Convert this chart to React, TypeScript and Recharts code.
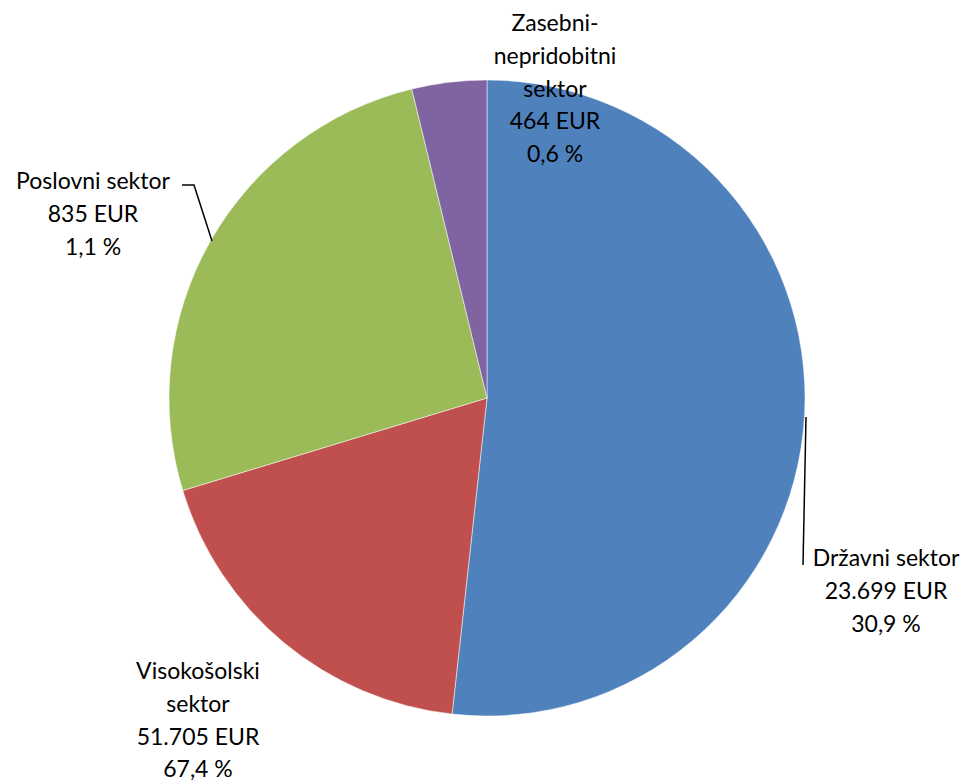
import React from 'react';
import { PieChart, Pie, Cell } from 'recharts';

// slice shares as drawn in the picture
const sectors = ['Državni sektor', 'Visokošolski sektor', 'Poslovni sektor', 'Zasebni-nepridobitni sektor'];
const shares = [51.75, 18.55, 25.9, 3.8];
const amounts = ['23.699 EUR', '51.705 EUR', '835 EUR', '464 EUR'];
const percents = ['30,9 %', '67,4 %', '1,1 %', '0,6 %'];
const colors = ['#4F81BD', '#C0504D', '#9BBB59', '#8064A2'];

// label text broken into lines per sector
const nameLines = [
    ['Državni sektor'],
    ['Visokošolski', 'sektor'],
    ['Poslovni sektor'],
    ['Zasebni-', 'nepridobitni', 'sektor'],
];

// label placement relative to pie centre (first line centre)
const labelLayout = [
    { dx: 399, dy: 159, line: [[319, 19], [316, 167]] },
    { dx: -289, dy: 272, line: null },
    { dx: -394, dy: -218, line: [[-305, -213], [-293, -213], [-275, -157]] },
    { dx: 68, dy: -376, line: null },
];

const data = sectors.map((name, i) => ({ name, value: shares[i] }));

const LINE_H = 32.8;

const renderLabel = (props: any) => {
    const { cx, cy, index } = props;
    const lay = labelLayout[index];
    const lines = [...nameLines[index], amounts[index], percents[index]];
    const x = cx + lay.dx;
    const y = cy + lay.dy;
    return (
        <g key={`lbl-${index}`}>
            {lay.line && (
                <polyline
                    points={lay.line.map(p => `${cx + p[0]},${cy + p[1]}`).join(' ')}
                    fill="none"
                    stroke="#000"
                    strokeWidth={1.5}
                />
            )}
            <text x={x} y={y} textAnchor="middle" dominantBaseline="central" fontSize={23} fill="#000">
                {lines.map((l, k) => (
                    <tspan key={k} x={x} dy={k === 0 ? 0 : LINE_H}>{l}</tspan>
                ))}
            </text>
        </g>
    );
};

export default function App() {
    return (
        <div style={{ position: 'absolute', left: 0, top: 0, width: 967, height: 782, background: '#fff', fontFamily: 'Lato, "Open Sans", sans-serif' }}>
            <PieChart width={967} height={782} margin={{ top: 0, right: 0, bottom: 0, left: 0 }}>
                <Pie
                    data={data}
                    dataKey="value"
                    cx={487}
                    cy={398}
                    outerRadius={318}
                    startAngle={90}
                    endAngle={-270}
                    stroke="#fff"
                    strokeWidth={0.5}
                    label={renderLabel}
                    labelLine={false}
                    isAnimationActive={false}
                >
                    {data.map((d, i) => (
                        <Cell key={`cell-${i}`} fill={colors[i]} />
                    ))}
                </Pie>
            </PieChart>
        </div>
    );
}
